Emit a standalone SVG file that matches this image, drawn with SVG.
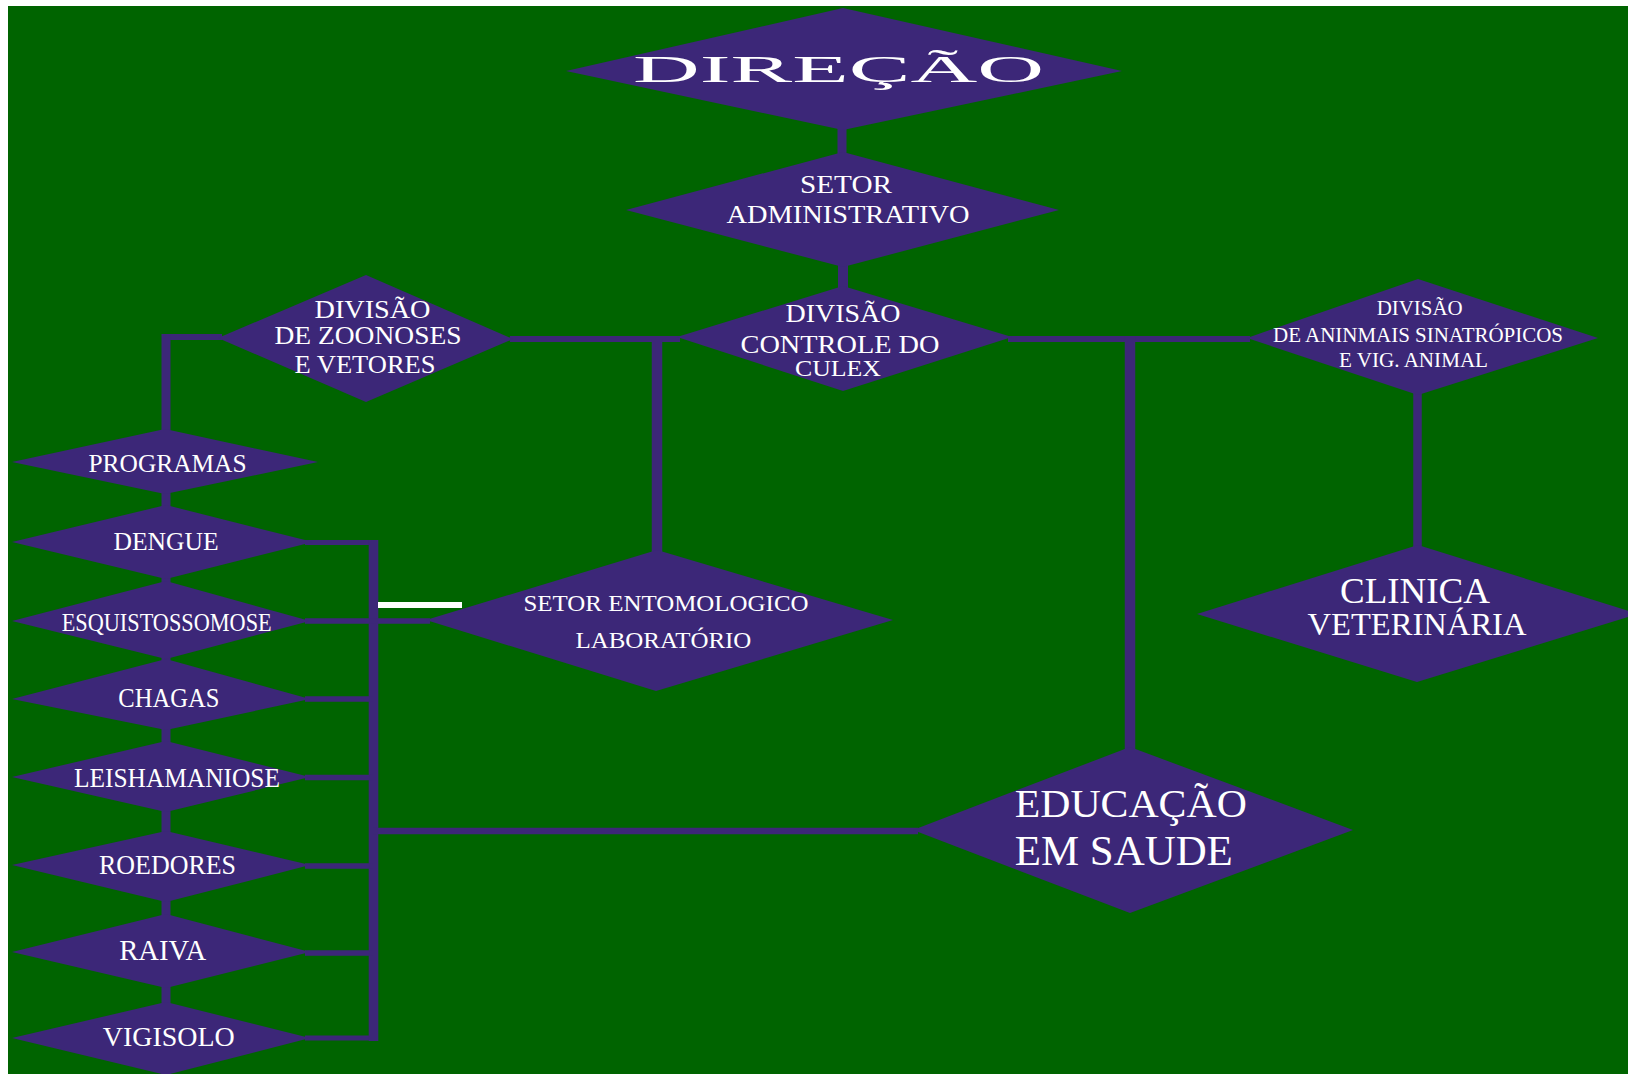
<svg xmlns="http://www.w3.org/2000/svg" width="1628" height="1074" viewBox="0 0 1628 1074">
<style>
.n{fill:#3c2778}
.c{stroke:#3c2778;fill:none}
.t{fill:#ffffff;font-family:"Liberation Serif",serif;text-anchor:middle}
</style>
<rect x="0" y="0" width="1628" height="1074" fill="#ffffff"/>
<rect x="8" y="6" width="1620" height="1068" fill="#006400"/>
<g id="connectors">
<line class="c" x1="842" y1="125" x2="842" y2="156" stroke-width="9"/>
<line class="c" x1="843" y1="262" x2="843" y2="291" stroke-width="10"/>
<line class="c" x1="510" y1="339" x2="680" y2="339" stroke-width="6"/>
<line class="c" x1="1008" y1="339" x2="1250" y2="339" stroke-width="6"/>
<line class="c" x1="657" y1="339" x2="657" y2="555" stroke-width="10.5"/>
<line class="c" x1="1130" y1="336" x2="1130" y2="752" stroke-width="10.5"/>
<line class="c" x1="222" y1="337" x2="162" y2="337" stroke-width="6"/>
<line class="c" x1="166" y1="334" x2="166" y2="1074" stroke-width="9"/>
<line class="c" x1="1417.5" y1="390" x2="1417.5" y2="550" stroke-width="8.5"/>
<polyline class="c" points="305,542.5 373.5,542.5 373.5,1038 305,1038" stroke-width="5"/>
<line class="c" x1="373.5" y1="540" x2="373.5" y2="1041" stroke-width="9.6"/>
<line class="c" x1="305" y1="621" x2="430" y2="621" stroke-width="5.5"/>
<line class="c" x1="305" y1="699" x2="373" y2="699" stroke-width="5.5"/>
<line class="c" x1="305" y1="777.5" x2="373" y2="777.5" stroke-width="5.5"/>
<line class="c" x1="305" y1="866" x2="373" y2="866" stroke-width="5.5"/>
<line class="c" x1="305" y1="953" x2="373" y2="953" stroke-width="5.5"/>
<line class="c" x1="373" y1="831" x2="918" y2="831" stroke-width="6.5"/>
<line x1="378" y1="605" x2="462" y2="605" stroke="#ffffff" stroke-width="6"/>
</g>
<g id="direcao">
<polygon class="n" points="566,71 843,8 1122,71 843,130"/>
<text class="t" x="838.5" y="81.7" font-size="37" textLength="411" lengthAdjust="spacingAndGlyphs">DIREÇÃO</text>
</g>
<g id="setor-administrativo">
<polygon class="n" points="626,210 843,152 1059,210 843,267"/>
<text class="t" x="846" y="193.3" font-size="26" textLength="92" lengthAdjust="spacingAndGlyphs">SETOR</text>
<text class="t" x="848" y="223.3" font-size="26" textLength="243" lengthAdjust="spacingAndGlyphs">ADMINISTRATIVO</text>
</g>
<g id="divisao-culex">
<polygon class="n" points="677,337 843,286 1012,337 843,391"/>
<text class="t" x="843" y="321.7" font-size="26" textLength="115" lengthAdjust="spacingAndGlyphs">DIVISÃO</text>
<text class="t" x="840" y="352.7" font-size="26" textLength="199" lengthAdjust="spacingAndGlyphs">CONTROLE DO</text>
<text class="t" x="838" y="376" font-size="23" textLength="86" lengthAdjust="spacingAndGlyphs">CULEX</text>
</g>
<g id="divisao-zoonoses">
<polygon class="n" points="218,338 366,275 513,339 366,402"/>
<text class="t" x="372.5" y="318" font-size="25" textLength="116" lengthAdjust="spacingAndGlyphs">DIVISÃO</text>
<text class="t" x="368" y="344" font-size="25" textLength="187" lengthAdjust="spacingAndGlyphs">DE  ZOONOSES</text>
<text class="t" x="365" y="372.7" font-size="25" textLength="141" lengthAdjust="spacingAndGlyphs">E VETORES</text>
</g>
<g id="divisao-sinantropicos">
<polygon class="n" points="1247,338 1418,279 1598,338 1418,395"/>
<text class="t" x="1419.7" y="315" font-size="20" textLength="86" lengthAdjust="spacingAndGlyphs">DIVISÃO</text>
<text class="t" x="1418" y="341.7" font-size="20" textLength="290" lengthAdjust="spacingAndGlyphs">DE ANINMAIS SINATRÓPICOS</text>
<text class="t" x="1413.5" y="367" font-size="20" textLength="149" lengthAdjust="spacingAndGlyphs">E VIG. ANIMAL</text>
</g>
<g id="clinica-veterinaria">
<polygon class="n" points="1197,614 1418,545 1638,614 1417,682"/>
<text class="t" x="1415" y="603.3" font-size="35" textLength="150" lengthAdjust="spacingAndGlyphs">CLINICA</text>
<text class="t" x="1417" y="635" font-size="31" textLength="219" lengthAdjust="spacingAndGlyphs">VETERINÁRIA</text>
</g>
<g id="setor-entomologico">
<polygon class="n" points="426,620 657,550 893,620 656,691"/>
<text class="t" x="666" y="610.7" font-size="24" textLength="285" lengthAdjust="spacingAndGlyphs">SETOR ENTOMOLOGICO</text>
<text class="t" x="663.4" y="648.3" font-size="24" textLength="176" lengthAdjust="spacingAndGlyphs">LABORATÓRIO</text>
</g>
<g id="educacao-em-saude">
<polygon class="n" points="913,830 1130,747 1353,830 1130,913"/>
<text class="t" x="1130.8" y="817.3" font-size="41" textLength="232" lengthAdjust="spacingAndGlyphs">EDUCAÇÃO</text>
<text class="t" x="1123.8" y="865" font-size="43" textLength="218" lengthAdjust="spacingAndGlyphs">EM SAUDE</text>
</g>
<g id="programas">
<polygon class="n" points="12,462 165,429 318,462 165,494"/>
<text class="t" x="167.5" y="472" font-size="26" textLength="158" lengthAdjust="spacingAndGlyphs">PROGRAMAS</text>
</g>
<g id="dengue">
<polygon class="n" points="12,542 166,505 313,542 166,579"/>
<text class="t" x="166" y="550" font-size="26" textLength="105" lengthAdjust="spacingAndGlyphs">DENGUE</text>
</g>
<g id="esquistossomose">
<polygon class="n" points="12,621 166,581 310,621 166,659"/>
<text class="t" x="166.7" y="630.6" font-size="26" textLength="210" lengthAdjust="spacingAndGlyphs">ESQUISTOSSOMOSE</text>
</g>
<g id="chagas">
<polygon class="n" points="12,699 166,659 310,699 166,730"/>
<text class="t" x="168.8" y="707" font-size="27" textLength="101" lengthAdjust="spacingAndGlyphs">CHAGAS</text>
</g>
<g id="leishamaniose">
<polygon class="n" points="12,777 166,741 310,777 166,812"/>
<text class="t" x="177" y="787" font-size="27" textLength="206" lengthAdjust="spacingAndGlyphs">LEISHAMANIOSE</text>
</g>
<g id="roedores">
<polygon class="n" points="12,865 166,831 310,865 166,902"/>
<text class="t" x="167.5" y="873.7" font-size="27" textLength="137" lengthAdjust="spacingAndGlyphs">ROEDORES</text>
</g>
<g id="raiva">
<polygon class="n" points="12,952 166,914 310,952 166,988"/>
<text class="t" x="162.7" y="960" font-size="29" textLength="87" lengthAdjust="spacingAndGlyphs">RAIVA</text>
</g>
<g id="vigisolo">
<polygon class="n" points="12,1038 166,1002 310,1038 166,1075"/>
<text class="t" x="168.8" y="1046.4" font-size="27" textLength="132" lengthAdjust="spacingAndGlyphs">VIGISOLO</text>
</g>
</svg>
